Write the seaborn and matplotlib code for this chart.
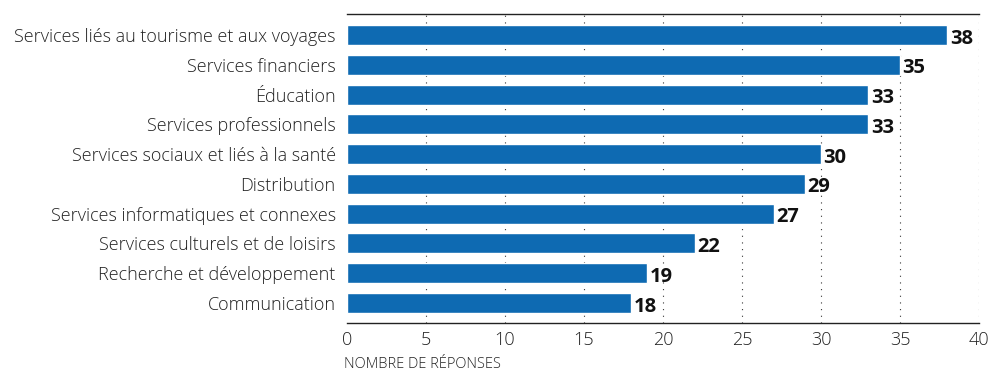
import matplotlib
matplotlib.use("Agg")
import matplotlib.pyplot as plt
import seaborn as sns
import pandas as pd

categories = [
    "Services liés au tourisme et aux voyages",
    "Services financiers",
    "Éducation",
    "Services professionnels",
    "Services sociaux et liés à la santé",
    "Distribution",
    "Services informatiques et connexes",
    "Services culturels et de loisirs",
    "Recherche et développement",
    "Communication",
]
values = [38, 35, 33, 33, 30, 29, 27, 22, 19, 18]
xticks = [0, 5, 10, 15, 20, 25, 30, 35, 40]

sns.set_theme(style="white")
plt.rcParams['font.family'] = ['Open Sans', 'DejaVu Sans']

df = pd.DataFrame({"cat": categories, "val": values})

fig = plt.figure(figsize=(9.91, 3.72), dpi=100)
ax = fig.add_axes([0.350, 0.132, 0.638, 0.830])
sns.barplot(data=df, y="cat", x="val", color="#0e6ab2", saturation=1,
            width=0.67, ax=ax, zorder=2)

ax.set_xlim(0, 40)
ax.set_ylim(9.67, -0.7)
ax.set_xticks(xticks)
ax.set_xticklabels([str(t) for t in xticks], fontsize=13, fontweight="light", color="#222222")
ax.tick_params(axis="y", length=0, pad=8, labelsize=13, labelcolor="#222222")
for lbl in ax.get_yticklabels():
    lbl.set_fontweight("light")
ax.tick_params(axis="x", length=4, width=0.8, color="#333333", direction="in", pad=6)

for t in xticks[1:]:
    ax.axvline(t, color="#333333", linestyle=(0, (1, 5)), linewidth=0.8, zorder=1)

for i, v in enumerate(values):
    ax.text(v + 0.15, i + 0.12, str(v), va="center", ha="left",
            fontsize=14.5, fontweight="bold", color="#111111")

ax.set_ylabel("")
ax.set_xlabel("NOMBRE DE RÉPONSES", fontsize=10.5, fontweight="light", color="#222222")
ax.xaxis.set_label_coords(-0.005, -0.112)
ax.xaxis.label.set_horizontalalignment("left")

for s in ["left", "right"]:
    ax.spines[s].set_visible(False)
ax.spines["top"].set_visible(True)
ax.spines["bottom"].set_visible(True)
ax.spines["top"].set_color("#222222")
ax.spines["bottom"].set_color("#222222")
ax.spines["top"].set_linewidth(1.0)
ax.spines["bottom"].set_linewidth(1.0)

fig.savefig("out.png", dpi=100)
